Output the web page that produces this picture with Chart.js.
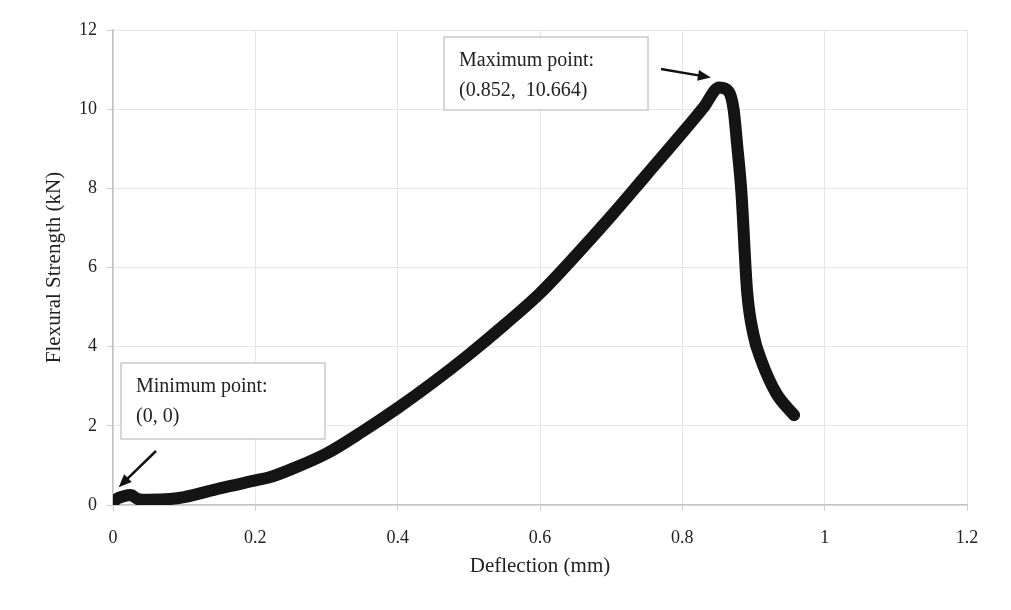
<!DOCTYPE html>
<html>
<head>
<meta charset="utf-8">
<script src="https://cdn.jsdelivr.net/npm/chart.js@4.4.0/dist/chart.umd.min.js"></script>
<style>
    html, body { margin: 0; padding: 0; background: #fff; }
    #wrap { width: 1011px; height: 610px; position: relative; }
</style>
</head>
<body>
<div id="wrap"><canvas id="flexChart"></canvas></div>
<script>
(function () {
    'use strict';

    // deflection (mm) and load (kN)
    const deflection = [0, 0.005, 0.015, 0.025, 0.035, 0.05, 0.08, 0.1, 0.15, 0.2, 0.22, 0.25,
        0.3, 0.35, 0.4, 0.45, 0.5, 0.55, 0.6, 0.65, 0.7, 0.75, 0.8, 0.83, 0.852, 0.865,
        0.872, 0.877, 0.883, 0.891, 0.9, 0.911, 0.932, 0.957];
    const strength = [0.05, 0.15, 0.22, 0.25, 0.15, 0.13, 0.15, 0.2, 0.42, 0.62, 0.7, 0.9,
        1.3, 1.85, 2.45, 3.1, 3.8, 4.55, 5.35, 6.3, 7.3, 8.35, 9.4, 10.05, 10.55, 10.45,
        10.0, 9.1, 7.9, 5.4, 4.3, 3.65, 2.82, 2.27];
    const xTicks = [0, 0.2, 0.4, 0.6, 0.8, 1, 1.2];
    const yTicks = [0, 2, 4, 6, 8, 10, 12];
    const maxLabel = ['Maximum point:', '(0.852,  10.664)'];
    const minLabel = ['Minimum point:', '(0, 0)'];

    const points = deflection.map((x, i) => ({ x: x, y: strength[i] }));
    const serif = '"Liberation Serif", "DejaVu Serif", serif';

    function drawArrow(ctx, x1, y1, x2, y2) {
        const ang = Math.atan2(y2 - y1, x2 - x1);
        const head = 14;
        ctx.save();
        ctx.strokeStyle = '#111';
        ctx.fillStyle = '#111';
        ctx.lineWidth = 2.5;
        ctx.beginPath();
        ctx.moveTo(x1, y1);
        ctx.lineTo(x2 - Math.cos(ang) * head * 0.8, y2 - Math.sin(ang) * head * 0.8);
        ctx.stroke();
        ctx.beginPath();
        ctx.moveTo(x2, y2);
        ctx.lineTo(x2 - head * Math.cos(ang - 0.4), y2 - head * Math.sin(ang - 0.4));
        ctx.lineTo(x2 - head * Math.cos(ang + 0.4), y2 - head * Math.sin(ang + 0.4));
        ctx.closePath();
        ctx.fill();
        ctx.restore();
    }

    function drawBox(ctx, left, top, w, h, lines) {
        ctx.save();
        ctx.fillStyle = '#fff';
        ctx.fillRect(left, top, w, h);
        ctx.strokeStyle = '#bdbdbd';
        ctx.lineWidth = 1.2;
        ctx.strokeRect(left, top, w, h);
        ctx.fillStyle = '#222';
        ctx.font = '20px ' + serif;
        ctx.textBaseline = 'alphabetic';
        ctx.fillText(lines[0], left + 15, top + 29);
        ctx.fillText(lines[1], left + 15, top + 59);
        ctx.restore();
    }

    const notes = {
        id: 'notes',
        afterDatasetsDraw(chart) {
            const ctx = chart.ctx;
            const xs = chart.scales.x;
            const ys = chart.scales.y;
            drawBox(ctx, 444, 37, 204, 73, maxLabel);
            drawArrow(ctx, 661, 69, xs.getPixelForValue(0.84), ys.getPixelForValue(10.8));
            drawBox(ctx, 121, 363, 204, 76, minLabel);
            drawArrow(ctx, 156, 451, xs.getPixelForValue(0.008), ys.getPixelForValue(0.45));
        }
    };

    new Chart(document.getElementById('flexChart'), {
        type: 'scatter',
        data: {
            datasets: [{
                data: points,
                showLine: true,
                borderColor: '#141414',
                backgroundColor: '#141414',
                borderWidth: 12,
                borderCapStyle: 'round',
                borderJoinStyle: 'round',
                cubicInterpolationMode: 'monotone',
                pointRadius: 0
            }]
        },
        options: {
            responsive: true,
            maintainAspectRatio: false,
            animation: false,
            layout: { padding: { top: 30, right: 44, left: 38, bottom: 27 } },
            plugins: {
                legend: { display: false },
                tooltip: { enabled: false }
            },
            scales: {
                x: {
                    type: 'linear',
                    min: 0,
                    max: 1.2,
                    afterBuildTicks: s => { s.ticks = xTicks.map(v => ({ value: v })); },
                    afterFit: s => { s.height = 78; },
                    grid: { color: '#e6e6e6', tickLength: 6, tickColor: '#cfcfcf' },
                    border: { color: '#c4c4c4', width: 1.5 },
                    ticks: {
                        color: '#222',
                        padding: 16,
                        font: { family: serif, size: 18 },
                        callback: v => String(v)
                    },
                    title: {
                        display: true,
                        text: 'Deflection (mm)',
                        color: '#222',
                        font: { family: serif, size: 21 },
                        padding: { top: 4 }
                    }
                },
                y: {
                    type: 'linear',
                    min: 0,
                    max: 12,
                    afterBuildTicks: s => { s.ticks = yTicks.map(v => ({ value: v })); },
                    afterFit: s => { s.width = 75; },
                    grid: { color: '#e6e6e6', tickLength: 6, tickColor: '#cfcfcf' },
                    border: { color: '#c4c4c4', width: 1.5 },
                    ticks: {
                        color: '#222',
                        padding: 10,
                        font: { family: serif, size: 18 },
                        callback: v => String(v)
                    },
                    title: {
                        display: true,
                        text: 'Flexural Strength (kN)',
                        color: '#222',
                        font: { family: serif, size: 21 },
                        padding: { bottom: 4 }
                    }
                }
            }
        },
        plugins: [notes]
    });
})();
</script>
</body>
</html>
